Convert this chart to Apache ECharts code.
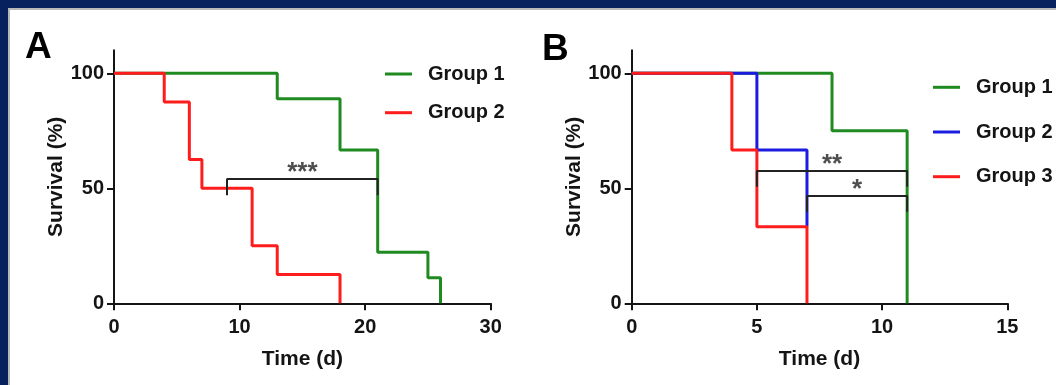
<!DOCTYPE html>
<html>
<head>
<meta charset="utf-8">
<script src="https://cdn.jsdelivr.net/npm/echarts@6/dist/echarts.min.js"></script>
<style>
  html, body { margin: 0; padding: 0; width: 1056px; height: 385px; overflow: hidden; background: #07205e; }
  #sheet { position: absolute; left: 8px; top: 8px; right: 0; bottom: 0; background: #ffffff; border-left: 2px solid #b8b8b8; border-top: 2px solid #b8b8b8; }
  #chart { position: absolute; left: 0; top: 0; width: 1056px; height: 385px; }
</style>
</head>
<body>
<div id="sheet"></div>
<div id="chart"></div>
<script>
// Panel A: Kaplan-Meier survival, two groups
const timeA1 = [0, 13, 18, 21, 25, 26];
const survA1 = [100, 88.9, 66.7, 22.2, 11.1, 0];
const timeA2 = [0, 4, 6, 7, 11, 13, 18];
const survA2 = [100, 87.5, 62.5, 50, 25, 12.5, 0];

// Panel B: Kaplan-Meier survival, three groups
const timeB1 = [0, 8, 11];
const survB1 = [100, 75, 0];
const timeB2 = [0, 5, 7];
const survB2 = [100, 66.7, 33.3];
const timeB3 = [0, 4, 5, 7];
const survB3 = [100, 66.7, 33.3, 0];

// Significance brackets (time, survival) and their marks
const bracketA_x = [9, 9, 21, 21];
const bracketA_y = [47, 54, 54, 47];
const bracketA_text = '***';
const bracketB1_x = [5, 5, 11, 11];
const bracketB1_y = [50.7, 57.5, 57.5, 50.7];
const bracketB1_text = '**';
const bracketB2_x = [7, 7, 11, 11];
const bracketB2_y = [39.8, 46.6, 46.6, 39.8];
const bracketB2_text = '*';

// Axis ticks
const yTicks = [0, 50, 100];
const xTicksA = [0, 10, 20, 30];
const xTicksB = [0, 5, 10, 15];

const groupNames = ['Group 1', 'Group 2', 'Group 3'];

const FONT = '"Liberation Sans", Arial, sans-serif';
const INK = '#141414';
const GREEN = '#1f8a1f';
const RED = '#ff1c1c';
const BLUE = '#1c1ce0';

const pairs = (xs, ys) => xs.map((x, i) => [x, ys[i]]);

function kmSeries(name, xs, ys, color, axisIdx) {
  return {
    type: 'line', name: name, step: 'end',
    xAxisIndex: axisIdx, yAxisIndex: axisIdx,
    data: pairs(xs, ys), symbol: 'none', showSymbol: false,
    lineStyle: { color: color, width: 3 }, itemStyle: { color: color },
    z: 3
  };
}
function bracketSeries(xs, ys, axisIdx) {
  return {
    type: 'line', xAxisIndex: axisIdx, yAxisIndex: axisIdx,
    data: pairs(xs, ys), symbol: 'none', showSymbol: false,
    lineStyle: { color: '#222', width: 2 }, z: 5, silent: true
  };
}
function starSeries(xs, ys, text, axisIdx) {
  const mid = [(xs[1] + xs[2]) / 2, ys[1]];
  return {
    type: 'scatter', xAxisIndex: axisIdx, yAxisIndex: axisIdx,
    data: [mid], symbolSize: 0.1, itemStyle: { color: 'rgba(0,0,0,0)' },
    silent: true, z: 6,
    label: { show: true, position: 'top', distance: -7, formatter: text,
             color: '#222', fontFamily: FONT, fontWeight: 'bold', fontSize: 26 }
  };
}

const tickFont = { color: INK, fontFamily: FONT, fontWeight: 'bold', fontSize: 20 };
const nameFont = { color: INK, fontFamily: FONT, fontWeight: 'bold', fontSize: 21 };
const axisLine = { show: true, onZero: false, lineStyle: { color: INK, width: 2 } };
const axisTick = { show: true, length: 7, lineStyle: { color: INK, width: 2 } };

function xAxis(idx, max, interval, ticks) {
  return {
    type: 'value', gridIndex: idx, min: 0, max: max, interval: interval,
    name: 'Time (d)', nameLocation: 'middle', nameGap: 45,
    nameTextStyle: nameFont,
    axisLine: axisLine, axisTick: Object.assign({ customValues: ticks }, axisTick),
    axisLabel: Object.assign({ margin: 14, customValues: ticks }, tickFont),
    splitLine: { show: false }
  };
}
function yAxis(idx) {
  return {
    type: 'value', gridIndex: idx, min: 0, max: 110, interval: 50,
    name: 'Survival (%)', nameLocation: 'middle', nameGap: 45,
    nameTextStyle: nameFont,
    axisLine: axisLine, axisTick: Object.assign({ customValues: yTicks }, axisTick),
    axisLabel: Object.assign({ margin: 10, customValues: yTicks }, tickFont),
    splitLine: { show: false }
  };
}

const legendText = { color: INK, fontFamily: FONT, fontWeight: 'bold', fontSize: 20,
                     lineHeight: 20, padding: [0, 0, 0, 11] };

const letterStyle = { color: '#000', fontFamily: FONT, fontWeight: 'bold', fontSize: 37 };

const option = {
  animation: false,
  backgroundColor: 'transparent',
  title: [
    { text: 'A', left: 25, top: 29, padding: 0, textStyle: letterStyle },
    { text: 'B', left: 542, top: 31, padding: 0, textStyle: letterStyle }
  ],
  grid: [
    { left: 114, top: 50.3, width: 376.7, height: 253 },
    { left: 631.7, top: 50.3, width: 375.6, height: 253 }
  ],
  xAxis: [xAxis(0, 30, 10, xTicksA), xAxis(1, 15, 5, xTicksB)],
  yAxis: [yAxis(0), yAxis(1)],
  legend: [
    { orient: 'vertical', left: 385, top: 64, padding: 0, itemGap: 18.7,
      icon: 'rect', itemWidth: 27, itemHeight: 3, selectedMode: false,
      data: [groupNames[0], groupNames[1]], textStyle: legendText },
    { orient: 'vertical', left: 933, top: 77.3, padding: 0, itemGap: 24.7,
      icon: 'rect', itemWidth: 27, itemHeight: 3, selectedMode: false,
      data: groupNames.map(n => n + ' (B)'), textStyle: legendText,
      formatter: n => n.replace(' (B)', '') }
  ],
  series: [
    kmSeries(groupNames[0], timeA1, survA1, GREEN, 0),
    kmSeries(groupNames[1], timeA2, survA2, RED, 0),
    bracketSeries(bracketA_x, bracketA_y, 0),
    starSeries(bracketA_x, bracketA_y, bracketA_text, 0),

    kmSeries(groupNames[0] + ' (B)', timeB1, survB1, GREEN, 1),
    kmSeries(groupNames[1] + ' (B)', timeB2, survB2, BLUE, 1),
    kmSeries(groupNames[2] + ' (B)', timeB3, survB3, RED, 1),
    bracketSeries(bracketB1_x, bracketB1_y, 1),
    starSeries(bracketB1_x, bracketB1_y, bracketB1_text, 1),
    bracketSeries(bracketB2_x, bracketB2_y, 1),
    starSeries(bracketB2_x, bracketB2_y, bracketB2_text, 1)
  ]
};

const chart = echarts.init(document.getElementById('chart'), null, { renderer: 'canvas' });
chart.setOption(option);
</script>
</body>
</html>
